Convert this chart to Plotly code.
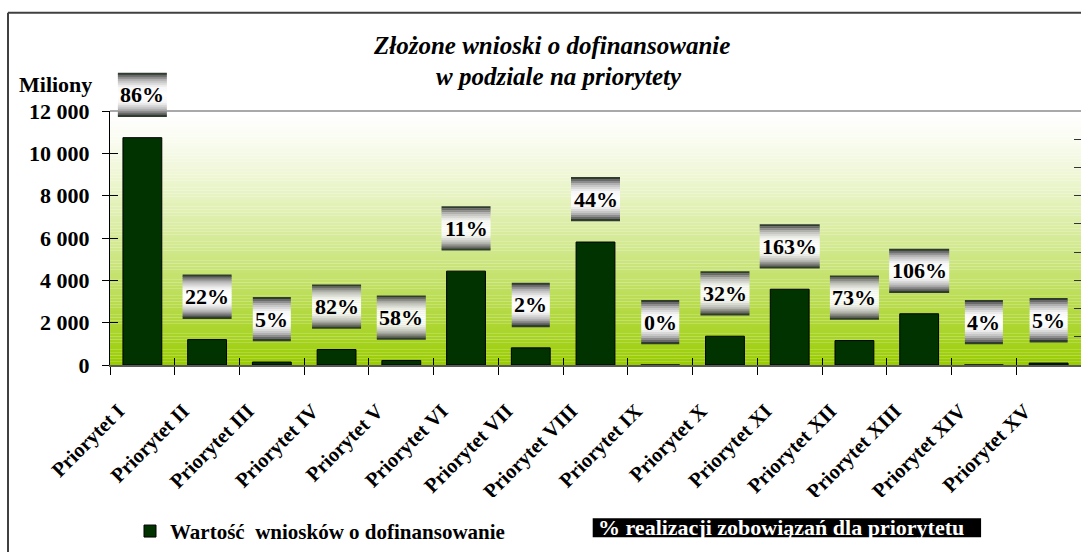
import plotly.graph_objects as go

# ---------------- data ----------------
categories = ["Priorytet I", "Priorytet II", "Priorytet III", "Priorytet IV", "Priorytet V",
              "Priorytet VI", "Priorytet VII", "Priorytet VIII", "Priorytet IX", "Priorytet X",
              "Priorytet XI", "Priorytet XII", "Priorytet XIII", "Priorytet XIV", "Priorytet XV"]
values = [10740, 1200, 140, 730, 215, 4435, 810, 5810, 0, 1360, 3580, 1155, 2420, 0, 90]
pct = [86, 22, 5, 82, 58, 11, 2, 44, 0, 32, 163, 73, 106, 4, 5]
y_ticks = [0, 2000, 4000, 6000, 8000, 10000, 12000]
title_lines = ["Złożone wnioski o dofinansowanie", "w podziale na priorytety"]
unit_label = "Miliony"
bar_name = "Wartość  wniosków o dofinansowanie"
pct_name = "% realizacji zobowiązań dla priorytetu"

# ---------------- geometry / style ----------------
W, H = 1081, 552
ML, MR, MT, MB = 110, 0, 111, 185
PW, PH = W - ML - MR, H - MT - MB
FONT = "Liberation Serif"
BAR_COLOR = "#003300"
Y_MAX = y_ticks[-1]


def px_x(px):
    """page x pixel -> paper x"""
    return (px - ML) / PW


def px_y(py):
    """page y pixel -> paper y"""
    return (H - MB - py) / PH


def mix(c1, c2, f):
    return tuple(round(a + (b - a) * f) for a, b in zip(c1, c2))


def rgb(c):
    return "rgb(%d,%d,%d)" % c


shapes = []

# plot-area gradient background (white at top -> yellow-green at bottom)
N_BG = 80
for k in range(N_BG):
    t = 1 - (k + 0.5) / N_BG
    f = t ** 1.3
    c = mix((255, 255, 255), (153, 204, 0), f)
    shapes.append(dict(type="rect", xref="paper", yref="paper", x0=0, x1=1,
                       y0=k / N_BG, y1=(k + 1) / N_BG, line=dict(width=0),
                       fillcolor=rgb(c), layer="below"))

# top border of plot area
shapes.append(dict(type="line", xref="paper", yref="paper", x0=0, x1=1, y0=1, y1=1,
                   line=dict(color="#8c8c8c", width=1.5)))

# outer chart frame (top and left edges visible)
shapes.append(dict(type="line", xref="paper", yref="paper", x0=px_x(8), x1=px_x(1090),
                   y0=px_y(12), y1=px_y(12), line=dict(color="#404040", width=2)))
shapes.append(dict(type="line", xref="paper", yref="paper", x0=px_x(8), x1=px_x(8),
                   y0=px_y(12), y1=px_y(560), line=dict(color="#404040", width=2)))

# white area under the axis labels (legend zone)
shapes.append(dict(type="rect", xref="paper", yref="paper", x0=px_x(10), x1=px_x(1090),
                   y0=px_y(560), y1=px_y(500), line=dict(width=0), fillcolor="white",
                   layer="above"))

# metallic gradient boxes behind percentage labels
stops = [(0.0, (255, 255, 255)), (0.35, (246, 246, 246)), (0.65, (188, 188, 188)),
         (0.85, (112, 112, 112)), (0.95, (50, 62, 50)), (1.0, (12, 45, 12))]


def box_color(d):
    for (d0, c0), (d1, c1) in zip(stops[:-1], stops[1:]):
        if d <= d1:
            return mix(c0, c1, (d - d0) / (d1 - d0))
    return stops[-1][1]


LABEL_FS = 22
LABEL_SHIFT = 43
BOX_H = 44
N_STRIPES = 22
annotations = []
for i, (v, p) in enumerate(zip(values, pct)):
    txt = "%d%%" % p
    bw = (0.5 * len(str(p)) + 1.0) * LABEL_FS + 5
    top = LABEL_SHIFT + BOX_H / 2
    sh = BOX_H / N_STRIPES
    for k in range(N_STRIPES):
        s = (k + 0.5) / N_STRIPES
        d = abs(s - 0.5) * 2
        shapes.append(dict(type="rect", xref="x", yref="paper", xsizemode="pixel",
                           ysizemode="pixel", xanchor=i, yanchor=v / Y_MAX,
                           x0=-bw / 2, x1=bw / 2,
                           y0=top - (k + 1) * sh - 0.3, y1=top - k * sh,
                           line=dict(width=0), fillcolor=rgb(box_color(d))))
    annotations.append(dict(x=categories[i], y=v, xref="x", yref="y", yshift=LABEL_SHIFT,
                            text=txt, showarrow=False,
                            font=dict(family=FONT, size=LABEL_FS, color="black", weight="bold")))

# titles
TITLE_FONT = dict(family=FONT, size=25, color="black", weight="bold", style="italic")
annotations.append(dict(x=px_x(551.7), y=px_y(45), xref="paper", yref="paper", text=title_lines[0],
                        showarrow=False, xanchor="center", yanchor="middle", font=TITLE_FONT))
annotations.append(dict(x=px_x(559.4), y=px_y(76), xref="paper", yref="paper", text=title_lines[1],
                        showarrow=False, xanchor="center", yanchor="middle", font=TITLE_FONT))
annotations.append(dict(x=px_x(55), y=px_y(84), xref="paper", yref="paper", text=unit_label,
                        showarrow=False, xanchor="center", yanchor="middle",
                        font=dict(family=FONT, size=22, color="black", weight="bold")))

# second legend entry: white text on a black strip
LEG2_FS = 22
leg2_w = 0.455 * LEG2_FS * len(pct_name) + 8
shapes.append(dict(type="rect", xref="paper", yref="paper", x0=px_x(592.7),
                   x1=px_x(592.7 + leg2_w), y0=px_y(540.5), y1=px_y(521.5),
                   line=dict(width=0), fillcolor="black", layer="above"))
annotations.append(dict(x=px_x(595.5), y=px_y(530.5), xref="paper", yref="paper", text=pct_name,
                        showarrow=False, xanchor="left", yanchor="middle",
                        font=dict(family=FONT, size=LEG2_FS, color="white", weight="bold")))

fig = go.Figure()
fig.add_trace(go.Bar(x=categories, y=values, name=bar_name, width=0.6,
                     marker=dict(color=BAR_COLOR, line=dict(color="black", width=1)),
                     hovertemplate="%{x}: %{y}<extra></extra>"))
fig.add_trace(go.Scatter(x=categories, y=[p / 100 for p in pct], yaxis="y2", mode="markers",
                         marker=dict(opacity=0), name=pct_name, showlegend=False,
                         hovertemplate="%{x}: %{y:.0%}<extra></extra>"))
# helper traces so the overlay axes (inner halves of crossing ticks) are drawn
fig.add_trace(go.Scatter(x=[0], y=[0], xaxis="x2", yaxis="y", mode="markers",
                         marker=dict(opacity=0), showlegend=False, hoverinfo="skip"))
fig.add_trace(go.Scatter(x=[categories[0]], y=[0], xaxis="x", yaxis="y3", mode="markers",
                         marker=dict(opacity=0), showlegend=False, hoverinfo="skip"))

n = len(categories)
fig.update_layout(
    width=W, height=H,
    margin=dict(l=ML, r=MR, t=MT, b=MB, pad=0),
    paper_bgcolor="white", plot_bgcolor="white",
    separators=", ",
    template="none",
    shapes=shapes, annotations=annotations,
    showlegend=True,
    legend=dict(orientation="h", x=px_x(130), xanchor="left", y=px_y(534.7), yanchor="middle",
                bgcolor="rgba(0,0,0,0)",
                font=dict(family=FONT, size=21, color="black", weight="bold")),
    xaxis=dict(type="category", categoryorder="array", categoryarray=categories,
               range=[-0.5, n - 0.5], tickson="boundaries", ticks="outside", ticklen=8,
               tickcolor="black", tickwidth=1, showline=True, linecolor="#5a5a5a", linewidth=2,
               showgrid=False, zeroline=False, tickangle=-45, automargin=False,
               ticklabelstandoff=24, ticklabelshift=-24,
               tickfont=dict(family=FONT, size=20.5, color="black", weight="bold")),
    xaxis2=dict(overlaying="x", anchor="y", type="linear", range=[-0.5, n - 0.5],
                tickmode="array", tickvals=[i - 0.5 for i in range(n + 1)], ticks="inside",
                ticklen=7, tickcolor="black", showticklabels=False, showline=False,
                showgrid=False, zeroline=False, automargin=False),
    yaxis=dict(range=[0, Y_MAX], tickmode="array", tickvals=y_ticks, tickformat=",d",
               ticks="outside", ticklen=7, tickcolor="black", showline=True, linecolor="black",
               linewidth=1, showgrid=False, zeroline=False, automargin=False,
               ticklabelstandoff=8,
               tickfont=dict(family=FONT, size=22, color="black", weight="bold")),
    yaxis3=dict(overlaying="y", side="left", anchor="x", range=[0, Y_MAX], tickmode="array",
                tickvals=y_ticks, ticks="inside", ticklen=8, tickcolor="black",
                showticklabels=False, showline=False, showgrid=False, zeroline=False,
                automargin=False),
    yaxis2=dict(overlaying="y", side="right", anchor="x", range=[0, 1.8], tickmode="linear",
                tick0=0, dtick=0.2, ticks="inside", ticklen=7, tickcolor="#333333",
                showticklabels=False, showline=False, showgrid=False, zeroline=False,
                automargin=False),
)

# remove the default page margin so the figure fills the 1081x552 window exactly
fig.write_html("out.html",
               config={"displayModeBar": False},
               post_script="document.body.style.margin='0';"
                           "document.documentElement.style.overflow='hidden';"
                           "document.body.style.overflow='hidden';")
